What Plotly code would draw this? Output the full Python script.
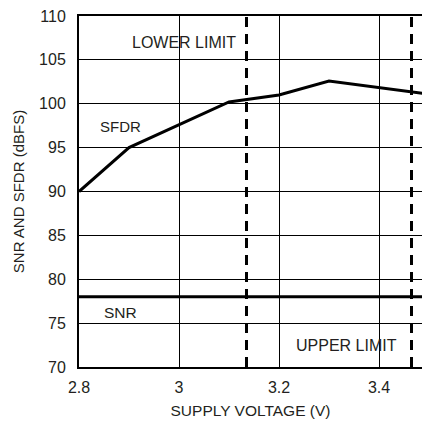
import plotly.graph_objects as go

supply_v = [2.8, 2.9, 3.1, 3.2, 3.3, 3.5]
sfdr = [90, 95, 100.2, 101.0, 102.6, 101.1]
snr_v = [2.8, 3.5]
snr = [78, 78]
limits = [3.135, 3.465]
x_ticks = [2.8, 3.0, 3.2, 3.4]
x_tick_text = ["2.8", "3", "3.2", "3.4"]
y_ticks = [70, 75, 80, 85, 90, 95, 100, 105, 110]

FONT = "Liberation Sans, Arial, Helvetica, sans-serif"
INK = "#231f20"

fig = go.Figure()
fig.add_trace(go.Scatter(x=supply_v, y=sfdr, mode="lines",
                         line=dict(color="black", width=3), showlegend=False))
fig.add_trace(go.Scatter(x=snr_v, y=snr, mode="lines",
                         line=dict(color="black", width=3), showlegend=False))
for lx in limits:
    fig.add_vline(x=lx, line=dict(color="black", width=3, dash="10px,7px"))

ann_font = dict(family=FONT, size=16, color=INK)
fig.add_annotation(x=3.118, y=107, text="LOWER LIMIT", showarrow=False,
                   xanchor="right", yanchor="middle", font=ann_font)
fig.add_annotation(x=2.882, y=97.4, text="SFDR", showarrow=False,
                   xanchor="center", yanchor="middle", font=dict(ann_font, size=15))
fig.add_annotation(x=2.882, y=76.2, text="SNR", showarrow=False,
                   xanchor="center", yanchor="middle", font=dict(ann_font, size=15.5))
fig.add_annotation(x=3.44, y=72.5, text="UPPER LIMIT", showarrow=False,
                   xanchor="right", yanchor="middle", font=ann_font)

fig.update_layout(
    width=422, height=421,
    margin=dict(l=79, r=0, t=16, b=54),
    plot_bgcolor="white", paper_bgcolor="white",
    font=dict(family=FONT, size=16, color=INK),
    xaxis=dict(range=[2.8, 3.486], tickvals=x_ticks, ticktext=x_tick_text,
               showgrid=True, gridcolor="black", gridwidth=1,
               showline=True, linecolor="black", linewidth=2, mirror=True,
               ticks="", zeroline=False, automargin=False,
               ticklabelstandoff=5,
               tickfont=dict(family=FONT, size=16, color=INK),
               title=dict(text="SUPPLY VOLTAGE (V)", standoff=10,
                          font=dict(family=FONT, size=15.5, color=INK))),
    yaxis=dict(range=[70, 110], tickvals=y_ticks,
               showgrid=True, gridcolor="black", gridwidth=1,
               showline=True, linecolor="black", linewidth=2,
               ticks="", zeroline=False, automargin=False,
               ticklabelstandoff=8,
               tickfont=dict(family=FONT, size=16, color=INK),
               title=dict(text="SNR AND SFDR (dBFS)", standoff=11,
                          font=dict(family=FONT, size=15, color=INK))),
)

fig.write_html("out.html", config={"displayModeBar": False},
               post_script="document.body.style.margin='0';document.body.style.overflow='hidden';")
